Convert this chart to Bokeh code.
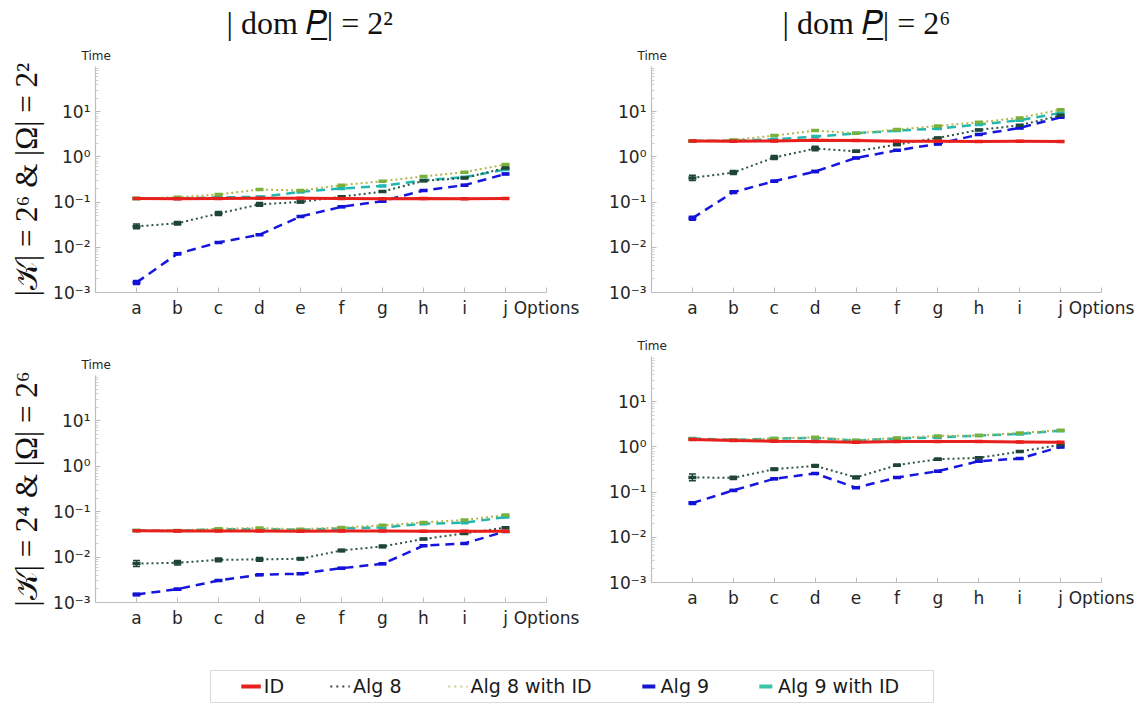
import math
from bokeh.plotting import figure
from bokeh.layouts import column, row
from bokeh.models import (Range1d, FixedTicker, CustomJSTickFormatter, Title, Whisker,
                          TeeHead, ColumnDataSource, Legend, LegendItem, BoxAnnotation)
from bokeh.embed import file_html
from bokeh.resources import INLINE

# ---------------- data ----------------
options = ["a", "b", "c", "d", "e", "f", "g", "h", "i", "j"]
x_axis_name = "Options"
y_axis_name = "Time"
series_names = ["ID", "Alg 8", "Alg 8 with ID", "Alg 9", "Alg 9 with ID"]

col_titles = ["| dom 𝑃\u0332| = 2²", "| dom 𝑃\u0332| = 2⁶"]
row_titles = ["|𝒦| = 2⁶ & |Ω| = 2²", "|𝒦| = 2⁴ & |Ω| = 2⁶"]

# panel 1 : |K|=2^6 & |Omega|=2^2, |dom P|=2^2
p1_id = [0.120, 0.118, 0.120, 0.121, 0.121, 0.120, 0.119, 0.120, 0.119, 0.120]
p1_alg8 = [0.029, 0.034, 0.056, 0.089, 0.101, 0.132, 0.171, 0.295, 0.343, 0.57]
p1_alg8_id = [0.120, 0.128, 0.147, 0.190, 0.180, 0.237, 0.290, 0.370, 0.460, 0.68]
p1_alg9 = [0.00166, 0.0072, 0.0128, 0.019, 0.048, 0.0785, 0.105, 0.18, 0.237, 0.42]
p1_alg9_id = [0.120, 0.120, 0.128, 0.130, 0.168, 0.200, 0.228, 0.305, 0.355, 0.525]
p1_alg8_err = [0.125, 0.09, 0.105, 0.105, 0.05, 0.04, 0.04, 0.03, 0.03, 0.03]
p1_alg9_err = [0.105, 0.05, 0.03, 0.03, 0.03, 0.03, 0.03, 0.03, 0.03, 0.03]

# panel 2 : |K|=2^6 & |Omega|=2^2, |dom P|=2^6
p2_id = [2.26, 2.22, 2.24, 2.33, 2.30, 2.22, 2.22, 2.18, 2.22, 2.18]
p2_alg8 = [0.343, 0.45, 0.97, 1.53, 1.33, 1.87, 2.63, 3.95, 5.0, 8.3]
p2_alg8_id = [2.26, 2.38, 2.96, 3.82, 3.33, 4.02, 4.84, 5.84, 7.3, 11.1]
p2_alg9 = [0.044, 0.166, 0.29, 0.474, 0.95, 1.40, 1.94, 3.12, 4.37, 7.5]
p2_alg9_id = [2.26, 2.30, 2.46, 2.81, 3.33, 3.82, 4.23, 5.19, 6.47, 9.4]
p2_alg8_err = [0.145, 0.105, 0.105, 0.125, 0.05, 0.04, 0.04, 0.03, 0.03, 0.03]
p2_alg9_err = [0.105, 0.07, 0.05, 0.05, 0.03, 0.03, 0.03, 0.03, 0.03, 0.03]

# panel 3 : |K|=2^4 & |Omega|=2^6, |dom P|=2^2
p3_id = [0.0380, 0.0378, 0.0378, 0.0377, 0.0372, 0.0375, 0.0375, 0.0372, 0.0372, 0.0370]
p3_alg8 = [0.0072, 0.0075, 0.0087, 0.0089, 0.0092, 0.014, 0.0172, 0.025, 0.0333, 0.0444]
p3_alg8_id = [0.0386, 0.0386, 0.0422, 0.0436, 0.0409, 0.045, 0.050, 0.058, 0.0655, 0.0844]
p3_alg9 = [0.0015, 0.00197, 0.00306, 0.0041, 0.0043, 0.0057, 0.0071, 0.0178, 0.020, 0.0368]
p3_alg9_id = [0.0386, 0.0380, 0.0409, 0.0415, 0.0401, 0.0427, 0.045, 0.0543, 0.0574, 0.0762]
p3_alg8_err = [0.165, 0.125, 0.105, 0.105, 0.07, 0.07, 0.07, 0.03, 0.03, 0.03]
p3_alg9_err = [0.07, 0.05, 0.04, 0.04, 0.03, 0.03, 0.03, 0.03, 0.03, 0.03]

# panel 4 : |K|=2^4 & |Omega|=2^6, |dom P|=2^6
p4_id = [1.45, 1.38, 1.33, 1.31, 1.27, 1.31, 1.31, 1.31, 1.29, 1.27]
p4_alg8 = [0.211, 0.207, 0.321, 0.381, 0.211, 0.394, 0.535, 0.572, 0.79, 1.11]
p4_alg8_id = [1.50, 1.43, 1.53, 1.63, 1.40, 1.58, 1.75, 1.78, 2.04, 2.33]
p4_alg9 = [0.0572, 0.109, 0.197, 0.258, 0.125, 0.211, 0.29, 0.483, 0.553, 1.0]
p4_alg9_id = [1.53, 1.43, 1.53, 1.58, 1.38, 1.53, 1.63, 1.78, 1.94, 2.29]
p4_alg8_err = [0.185, 0.09, 0.07, 0.07, 0.07, 0.05, 0.05, 0.04, 0.03, 0.03]
p4_alg9_err = [0.07, 0.05, 0.04, 0.03, 0.03, 0.03, 0.03, 0.03, 0.03, 0.03]

# ---------------- styles ----------------
line_color = {"ID": "#e8201c", "Alg 8": "#2c5545", "Alg 8 with ID": "#b4b548",
              "Alg 9": "#1616e0", "Alg 9 with ID": "#20b7b0"}
mark_color = {"ID": "#e8201c", "Alg 8": "#1f4536", "Alg 8 with ID": "#79b13c",
              "Alg 9": "#1212d8", "Alg 9 with ID": "#20b7b0"}
line_dash = {"ID": "solid", "Alg 8": "2 3", "Alg 8 with ID": "2 3",
             "Alg 9": "9 6", "Alg 9 with ID": "9 6"}
line_w = {"ID": 3, "Alg 8": 2, "Alg 8 with ID": 2, "Alg 9": 2.5, "Alg 9 with ID": 2.5}
draw_order = ["Alg 9 with ID", "Alg 8 with ID", "Alg 9", "Alg 8", "ID"]

AXIS_COLOR = "#bdbdbd"
TXT = "#262626"

sup_js = """
const sup = {"-":"\u207b","0":"\u2070","1":"\u00b9","2":"\u00b2","3":"\u00b3","4":"\u2074",
             "5":"\u2075","6":"\u2076","7":"\u2077","8":"\u2078","9":"\u2079"};
const e = Math.round(Math.log10(tick));
return "10" + String(e).split("").map(c => sup[c]).join("");
"""

major_y = [1e-3, 1e-2, 1e-1, 1e0, 1e1]
minor_y = [k * 10.0 ** d for d in range(-3, 2) for k in range(2, 10)]


def make_panel(vals, errs, top, bottom, left, right, fw, fh):
    xs = list(range(1, len(options) + 1))
    p = figure(frame_width=fw, frame_height=fh, x_range=Range1d(0, 11),
               y_range=Range1d(1e-3, 1e2), y_axis_type="log",
               output_backend="svg", toolbar_location=None,
               min_border_top=top, min_border_bottom=bottom,
               min_border_left=left, min_border_right=right)
    p.outline_line_color = None
    p.grid.visible = False

    ticks = xs + [11]
    p.xaxis.ticker = FixedTicker(ticks=ticks)
    labels = {x: o for x, o in zip(xs, options)}
    labels[11] = x_axis_name
    p.xaxis.major_label_overrides = labels
    p.xaxis.major_tick_in = 5
    p.xaxis.major_tick_out = 0
    p.xaxis.major_label_standoff = 5
    p.yaxis.ticker = FixedTicker(ticks=major_y, minor_ticks=minor_y)
    p.yaxis.formatter = CustomJSTickFormatter(code=sup_js)
    p.yaxis.major_tick_in = 5
    p.yaxis.major_tick_out = 0
    p.yaxis.minor_tick_in = 3
    p.yaxis.minor_tick_out = 0
    p.yaxis.major_label_standoff = 5
    p.xaxis.minor_tick_line_color = None
    p.yaxis.minor_tick_line_color = "#d0d0d0"
    for ax in p.axis:
        ax.axis_line_color = AXIS_COLOR
        ax.axis_line_width = 1.2
        ax.major_tick_line_color = AXIS_COLOR
        ax.major_label_text_font = "DejaVu Sans"
        ax.major_label_text_color = TXT
    p.xaxis.major_label_text_font_size = "17px"
    p.yaxis.major_label_text_font_size = "17px"

    for name in draw_order:
        y = vals[name]
        src = ColumnDataSource(dict(x=xs, y=y))
        p.line("x", "y", source=src, line_color=line_color[name], line_width=line_w[name],
               line_dash=line_dash[name])
        if name in errs:
            e = errs[name]
            wsrc = ColumnDataSource(dict(x=xs, lo=[v / (1 + r) for v, r in zip(y, e)],
                                         hi=[v * (1 + r) for v, r in zip(y, e)]))
            p.add_layout(Whisker(source=wsrc, base="x", lower="lo", upper="hi",
                                 line_color=mark_color[name], line_width=1.5,
                                 upper_head=TeeHead(size=7, line_color=mark_color[name], line_width=1.5),
                                 lower_head=TeeHead(size=7, line_color=mark_color[name], line_width=1.5)))
        p.scatter("x", "y", source=src, marker="dash", size=8, line_width=3.5,
                  line_color=mark_color[name])

    p.add_layout(Title(text=y_axis_name, align="left", offset=-14, standoff=8,
                       text_font="DejaVu Sans", text_font_size="12px",
                       text_font_style="normal", text_color=TXT), "above")
    return p


def add_col_title(p, text):
    p.add_layout(Title(text=text, align="left", offset=131, standoff=4,
                       text_font="Liberation Serif", text_font_size="32px",
                       text_font_style="normal", text_color="#111111"), "above")


def add_row_title(p, text):
    p.add_layout(Title(text=text, align="center", standoff=13,
                       text_font="Liberation Serif", text_font_size="31px",
                       text_font_style="normal", text_color="#111111"), "left")


def pack(idv, a8, a8i, a9, a9i):
    return {"ID": idv, "Alg 8": a8, "Alg 8 with ID": a8i, "Alg 9": a9, "Alg 9 with ID": a9i}


f1 = make_panel(pack(p1_id, p1_alg8, p1_alg8_id, p1_alg9, p1_alg9_id),
                {"Alg 8": p1_alg8_err, "Alg 9": p1_alg9_err}, 66, 38, 93, 40, 451, 226)
f2 = make_panel(pack(p2_id, p2_alg8, p2_alg8_id, p2_alg9, p2_alg9_id),
                {"Alg 8": p2_alg8_err, "Alg 9": p2_alg9_err}, 66, 38, 65, 41, 450, 226)
f3 = make_panel(pack(p3_id, p3_alg8, p3_alg8_id, p3_alg9, p3_alg9_id),
                {"Alg 8": p3_alg8_err, "Alg 9": p3_alg9_err}, 45, 66, 93, 40, 451, 227)
f4 = make_panel(pack(p4_id, p4_alg8, p4_alg8_id, p4_alg9, p4_alg9_id),
                {"Alg 8": p4_alg8_err, "Alg 9": p4_alg9_err}, 26, 86, 65, 41, 450, 226)

add_col_title(f1, col_titles[0])
add_col_title(f2, col_titles[1])
add_row_title(f1, row_titles[0])
add_row_title(f3, row_titles[1])

# ---------------- legend ----------------
lw, lh = 1140, 35
lp = figure(frame_width=lw, frame_height=lh, x_range=Range1d(0, lw), y_range=Range1d(0, lh),
            output_backend="svg", toolbar_location=None, min_border=0,
            x_axis_location=None, y_axis_location=None)
lp.outline_line_color = None
lp.grid.visible = False
lp.add_layout(BoxAnnotation(left=210, right=933, bottom=1, top=33, fill_color="white",
                            fill_alpha=1, line_color="#8c8c8c", line_width=1.2))
hx, hy = [-20, -10], [-20, -20]
r_id = lp.line(hx, hy, line_color="#e8201c", line_width=4)
r_a8 = lp.line(hx, hy, line_color="#3a4a44", line_width=2, line_dash="2 4")
r_a8i = lp.line(hx, hy, line_color="#c4cf86", line_width=2, line_dash="2 4")
r_a9 = lp.line(hx, hy, line_color="#1616d0", line_width=4, line_dash="13 7", line_dash_offset=16)
r_a9i = lp.line(hx, hy, line_color="#3cc4aa", line_width=4, line_dash="13 7", line_dash_offset=16)
legend = Legend(items=[LegendItem(label=n, renderers=[r]) for n, r in
                       zip(series_names, [r_id, r_a8, r_a8i, r_a9, r_a9i])],
                orientation="horizontal", location="center", glyph_width=20, glyph_height=20,
                label_standoff=3, spacing=46, padding=0, margin=0, border_line_color=None,
                background_fill_alpha=0, label_text_font="DejaVu Sans",
                label_text_font_size="19px", label_text_color="#1a1a1a")
lp.add_layout(legend, "center")

layout = column(row(column(f1, f3), column(f2, f4)), lp)
open("out.html", "w").write(file_html(layout, INLINE))
